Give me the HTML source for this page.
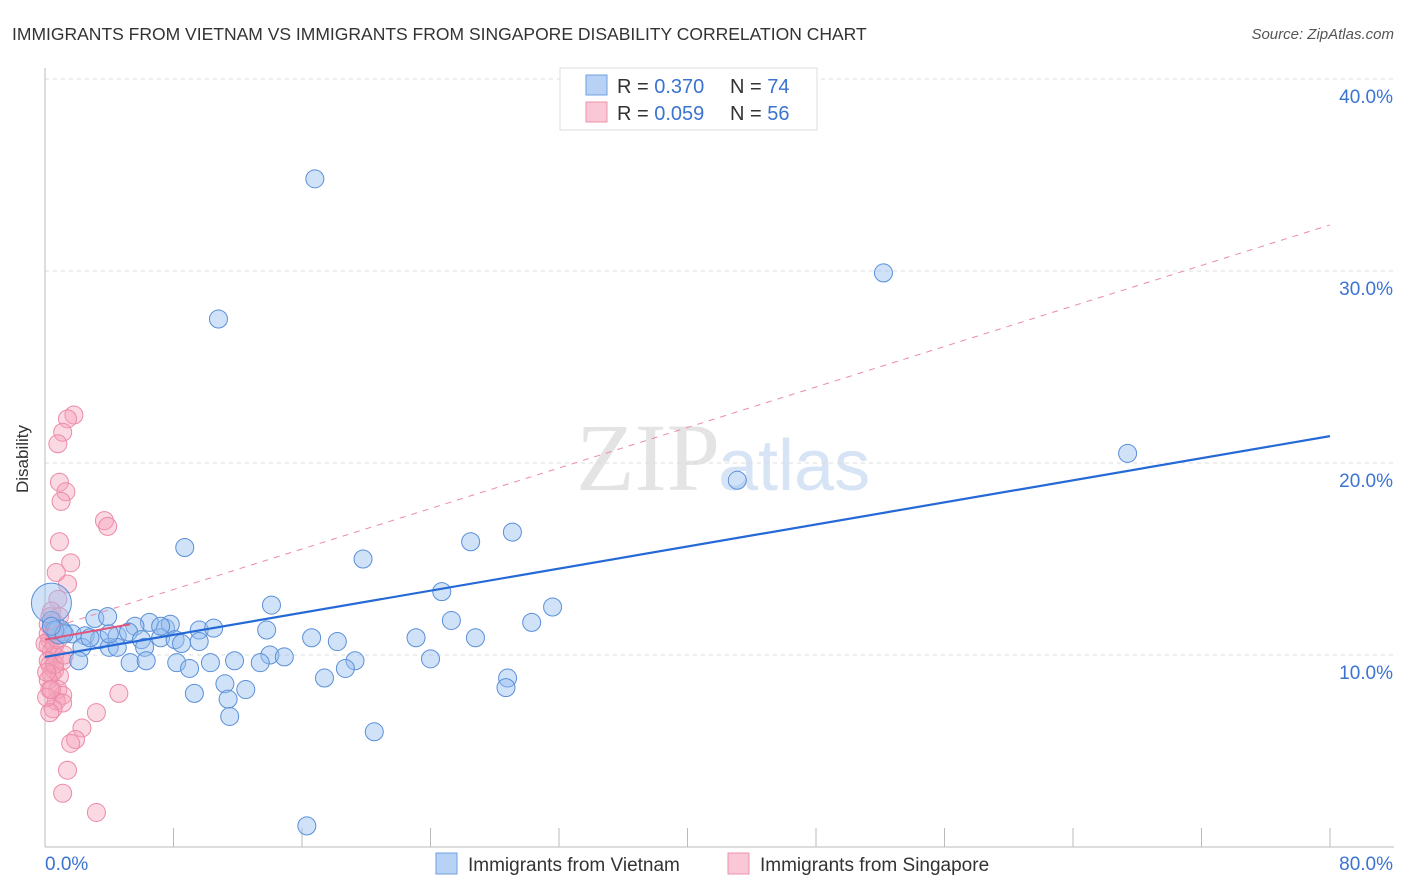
<!DOCTYPE html>
<html><head><meta charset="utf-8"><style>
body{margin:0;background:#fff;font-family:"Liberation Sans",sans-serif}
svg{display:block}
</style></head><body>
<svg width="1406" height="892">
<text x="12" y="40" font-size="17.5" fill="#333">IMMIGRANTS FROM VIETNAM VS IMMIGRANTS FROM SINGAPORE DISABILITY CORRELATION CHART</text>
<text x="1394" y="39" font-size="15" fill="#555" font-style="italic" text-anchor="end">Source: ZipAtlas.com</text>
<text x="720" y="490" font-size="96" fill="#e4e4e4" text-anchor="end" font-family="Liberation Serif">ZIP</text>
<text x="718" y="490" font-size="72" fill="#d6e4f5">atlas</text>
<g id="grid"></g>
<g id="axes"></g>
<g id="pts"></g>
<g id="lines"></g>
<text x="24" y="455" font-size="17" fill="#333" text-anchor="middle" transform="rotate(-90 28 455)">Disability</text>
<g>
<rect x="560" y="68" width="257" height="62" fill="#fff" stroke="#ddd"/>
<rect x="586" y="75" width="21" height="20" fill="#b7d2f5" stroke="#6f9fe0"/>
<rect x="586" y="102" width="21" height="20" fill="#f9c7d5" stroke="#ec93ad"/>
<text x="617" y="93" font-size="20" fill="#333">R = <tspan fill="#3b73d1">0.370</tspan><tspan x="730">N = </tspan><tspan fill="#3b73d1">74</tspan></text>
<text x="617" y="120" font-size="20" fill="#333">R = <tspan fill="#3b73d1">0.059</tspan><tspan x="730">N = </tspan><tspan fill="#3b73d1">56</tspan></text>
</g>
<g>
<rect x="436" y="853" width="21" height="21" fill="#b7d2f5" stroke="#6f9fe0"/>
<text x="468" y="871" font-size="19" fill="#333">Immigrants from Vietnam</text>
<rect x="728" y="853" width="21" height="21" fill="#f9c7d5" stroke="#ec93ad"/>
<text x="760" y="871" font-size="19" fill="#333">Immigrants from Singapore</text>
</g>
</svg>
<script>
const yTicks=[10,20,30,40];
const yTickLabels=["10.0%","20.0%","30.0%","40.0%"];
const xTickLabels=["0.0%","80.0%"];
const vietnamX=[16.8,10.8,52.2,67.4,43.1,29.1,26.5,8.7,19.8,24.7,14.1,31.6,25.3,30.3,3.1,3.9,6.5,5.6,7.5,7.8,9.6,10.5,13.8,16.6,18.2,23.1,26.8,1.1,1.7,2.5,3.4,4.5,5.2,6.0,7.2,8.1,9.6,8.5,14.0,14.9,19.3,2.3,4.0,4.5,6.2,0.4,0.4,2.1,5.3,6.3,8.2,10.3,11.8,13.4,9.0,18.7,24.0,28.8,17.4,11.2,12.5,9.3,11.4,11.5,28.7,20.5,16.3,0.9,0.6,1.2,2.8,7.2,4.0,0.4];
const vietnamY=[34.8,27.5,29.9,20.5,19.1,16.4,15.9,15.6,15.0,13.3,12.6,12.5,11.8,11.7,11.9,12.0,11.7,11.5,11.4,11.6,11.3,11.4,11.3,10.9,10.7,10.9,10.9,11.2,11.1,11.0,10.8,11.0,11.2,10.8,10.9,10.8,10.7,10.6,10.0,9.9,9.7,10.4,10.4,10.4,10.4,11.8,12.7,9.7,9.6,9.7,9.6,9.6,9.7,9.6,9.3,9.3,9.8,8.8,8.8,8.5,8.2,8.0,7.7,6.8,8.3,6.0,1.1,11.2,11.3,11.1,10.9,11.5,11.1,11.5];
const vietnamR=[9,9,9,9,9,9,9,9,9,9,9,9,9,9,9,9,9,9,9,9,9,9,9,9,9,9,9,9,9,9,9,9,9,9,9,9,9,9,9,9,9,9,9,9,9,9,20,9,9,9,9,9,9,9,9,9,9,9,9,9,9,9,9,9,9,9,9,12,9,9,9,9,9,9];
const singaporeX=[1.8,1.4,1.1,0.8,0.9,1.3,1.0,3.7,3.9,0.9,1.6,1.4,0.7,0.3,0.6,0.5,0.7,0.3,0.2,0.4,0.6,0.2,0.3,0.6,0.4,0.9,0.2,0.8,1.1,0.7,1.1,0.5,0.3,4.6,3.2,2.3,1.9,1.6,1.4,1.1,3.2,0.8,0.4,0.2,0.9,0.2,0.6,0.3,0.1,1.1,0.0,0.6,0.8,1.2,0.1,0.4];
const singaporeY=[22.5,22.3,21.6,21.0,19.0,18.5,18.0,17.0,16.7,15.9,14.8,13.7,14.3,12.0,11.7,11.3,11.0,10.8,10.5,10.2,10.0,9.7,9.5,9.2,9.0,8.9,8.7,8.2,7.9,7.6,7.5,7.2,7.0,8.0,7.0,6.2,5.6,5.4,4.0,2.8,1.8,12.9,12.3,11.6,12.0,11.1,10.5,8.2,7.8,9.7,10.6,9.5,10.8,10.0,9.1,8.2];
const NS="http://www.w3.org/2000/svg";
const X=v=>45+v/80*1285, Y=v=>847-v*19.2;
function mk(t,a,p){const e=document.createElementNS(NS,t);for(const k in a)e.setAttribute(k,a[k]);document.getElementById(p).appendChild(e);return e;}
yTicks.forEach((t,i)=>{
 const g=mk('line',{x1:45,x2:1394,y1:Y(t),y2:Y(t),stroke:'#ddd','stroke-dasharray':'4,4'},'grid');
 
 
 const tx=mk('text',{x:1393,y:Y(t)+24,'text-anchor':'end','font-size':19,fill:'#3b73d1'},'axes');tx.textContent=yTickLabels[i];
 
 
});
const ax=mk('line',{x1:45,x2:45,y1:68,y2:847,stroke:'#bbb'},'axes');


const bx=mk('line',{x1:45,x2:1394,y1:847,y2:847,stroke:'#bbb'},'axes');


for(let i=0;i<=10;i++){const tk=mk('line',{x1:X(i*8),x2:X(i*8),y1:828,y2:847,stroke:'#bbb'},'axes');
 
 }
[[0,'start',45],[1,'end',1393]].forEach(([i,a,x])=>{const t=mk('text',{x:x,y:870,'text-anchor':a,'font-size':19,fill:'#3b73d1'},'axes');t.textContent=xTickLabels[i];
 
 });
singaporeX.forEach((v,i)=>{const c=mk('circle',{cx:X(v),cy:Y(singaporeY[i]),r:9,fill:'rgba(246,160,185,0.4)',stroke:'#ec8aa8','stroke-width':1},'pts');
 
 });
vietnamX.forEach((v,i)=>{const c=mk('circle',{cx:X(v),cy:Y(vietnamY[i]),r:vietnamR[i],fill:'rgba(150,190,240,0.45)',stroke:'#5a8fd8','stroke-width':1},'pts');
 
 });
const vInt=9.9,vSlope=(21.4-9.9)/80,sInt=11.3,sSlope=(32.4-11.3)/80;
const l1=mk('line',{x1:X(0),y1:Y(vInt),x2:X(80),y2:Y(vInt+vSlope*80),stroke:'#2469d6','stroke-width':2.2},'lines');


const l2=mk('line',{x1:X(0),y1:Y(sInt),x2:X(80),y2:Y(sInt+sSlope*80),stroke:'#ec8aa8','stroke-width':1,'stroke-dasharray':'6,6'},'lines');


const l3=mk('line',{x1:X(0),y1:Y(10.8),x2:X(5.3),y2:Y(11.6),stroke:'#e0557d','stroke-width':2},'lines');


</script>
</body></html>
